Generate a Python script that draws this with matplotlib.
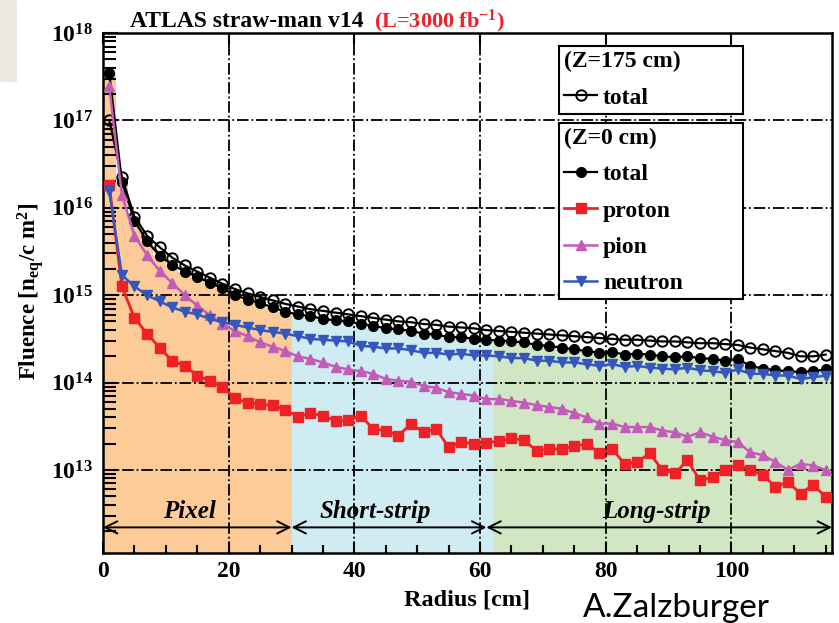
import numpy as np
import matplotlib
matplotlib.use("Agg")
import matplotlib.pyplot as plt
from matplotlib.ticker import MultipleLocator, LogLocator, FuncFormatter, NullFormatter
from matplotlib.patches import Rectangle

plt.rcParams["font.family"] = ["Liberation Serif", "DejaVu Serif"]
plt.rcParams["font.weight"] = "bold"
plt.rcParams["mathtext.fontset"] = "custom"
plt.rcParams["mathtext.rm"] = "Liberation Serif:bold"
plt.rcParams["mathtext.bf"] = "Liberation Serif:bold"
plt.rcParams["mathtext.it"] = "Liberation Serif:bold:italic"

# ---- data: 2 cm radial bins, fluence values given as log10(n_eq/cm^2) ----
bin_edges = np.arange(0, 117, 2)
radius = 0.5 * (bin_edges[:-1] + bin_edges[1:])

log_total_z175 = [
    17.00, 16.35, 15.90, 15.68, 15.55, 15.43, 15.34, 15.27, 15.20, 15.13,
    15.07, 15.02, 14.98, 14.94, 14.90, 14.87, 14.84, 14.82, 14.80, 14.78,
    14.76, 14.74, 14.72, 14.70, 14.69, 14.67, 14.66, 14.64, 14.63, 14.62,
    14.60, 14.59, 14.58, 14.57, 14.56, 14.55, 14.54, 14.53, 14.52, 14.51,
    14.50, 14.49, 14.49, 14.48, 14.47, 14.47, 14.46, 14.45, 14.45, 14.44,
    14.43, 14.40, 14.38, 14.36, 14.34, 14.30, 14.30, 14.32]
log_total_z0 = [
    17.54, 16.30, 15.85, 15.62, 15.45, 15.35, 15.27, 15.21, 15.14, 15.08,
    15.00, 14.95, 14.91, 14.86, 14.81, 14.78, 14.76, 14.73, 14.71, 14.70,
    14.67, 14.65, 14.62, 14.61, 14.59, 14.56, 14.55, 14.52, 14.52, 14.50,
    14.49, 14.48, 14.47, 14.46, 14.43, 14.42, 14.40, 14.38, 14.36, 14.34,
    14.35, 14.32, 14.33, 14.32, 14.30, 14.29, 14.30, 14.28, 14.27, 14.25,
    14.27, 14.19, 14.16, 14.14, 14.13, 14.12, 14.13, 14.15]
log_proton = [
    16.26, 15.10, 14.74, 14.56, 14.40, 14.25, 14.19, 14.08, 14.02, 13.95,
    13.82, 13.77, 13.75, 13.74, 13.69, 13.61, 13.65, 13.62, 13.56, 13.57,
    13.62, 13.47, 13.45, 13.39, 13.53, 13.43, 13.47, 13.26, 13.32, 13.30,
    13.31, 13.33, 13.36, 13.34, 13.22, 13.24, 13.24, 13.27, 13.30, 13.19,
    13.24, 13.07, 13.09, 13.19, 13.00, 12.96, 13.11, 12.88, 12.92, 13.00,
    13.06, 13.00, 12.94, 12.81, 12.86, 12.73, 12.83, 12.69]
log_pion = [
    17.39, 16.15, 15.68, 15.46, 15.28, 15.14, 15.00, 14.88, 14.77, 14.67,
    14.59, 14.53, 14.46, 14.41, 14.36, 14.30, 14.27, 14.23, 14.18, 14.15,
    14.13, 14.10, 14.04, 14.02, 14.01, 13.96, 13.94, 13.89, 13.87, 13.85,
    13.81, 13.81, 13.79, 13.77, 13.74, 13.72, 13.70, 13.65, 13.60, 13.53,
    13.53, 13.49, 13.49, 13.49, 13.45, 13.43, 13.38, 13.43, 13.38, 13.34,
    13.32, 13.20, 13.17, 13.09, 13.00, 13.07, 13.05, 13.00]
log_neutron = [
    16.19, 15.23, 15.10, 15.00, 14.93, 14.86, 14.81, 14.78, 14.73, 14.69,
    14.66, 14.63, 14.60, 14.58, 14.56, 14.53, 14.50, 14.49, 14.48, 14.47,
    14.42, 14.41, 14.39, 14.39, 14.37, 14.34, 14.34, 14.32, 14.33, 14.31,
    14.31, 14.30, 14.28, 14.28, 14.25, 14.25, 14.23, 14.23, 14.21, 14.19,
    14.21, 14.18, 14.19, 14.17, 14.16, 14.15, 14.17, 14.14, 14.13, 14.11,
    14.15, 14.10, 14.10, 14.08, 14.08, 14.04, 14.06, 14.08]

region_edges = [0, 30, 62, 116]
region_names = ["Pixel", "Short-strip", "Long-strip"]
region_colors = ["#FCCB98", "#D0ECF3", "#D1E7C4"]
arrow_edges = [0, 30, 61, 116]
label_centres = [13.8, 43.3, 88.0]

total_z175 = 10.0 ** np.array(log_total_z175)
total_z0 = 10.0 ** np.array(log_total_z0)
proton = 10.0 ** np.array(log_proton)
pion = 10.0 ** np.array(log_pion)
neutron = 10.0 ** np.array(log_neutron)

W, H = 839, 623
fig = plt.figure(figsize=(W / 100, H / 100), dpi=100)
fig.patches.append(Rectangle((0, 1 - 81 / H), 16 / W, 81 / H,
                             transform=fig.transFigure, color="#EDEAE1", zorder=0))
ax = fig.add_axes([103 / W, 1 - 553 / H, (832 - 103) / W, (553 - 33) / H])

# detector regions: the total (Z=0) histogram filled with the region colour
for lo, hi, col in zip(region_edges[:-1], region_edges[1:], region_colors):
    idx = np.where((bin_edges[:-1] >= lo) & (bin_edges[1:] <= hi))[0]
    ax.stairs(total_z0[idx], bin_edges[idx[0]:idx[-1] + 2], baseline=1e10,
              fill=True, color=col, lw=0, zorder=1)

lw = 1.6
h175, = ax.plot(radius, total_z175, "-o", color="black", mfc="none", ms=7.5,
                mew=1.4, lw=lw, zorder=3)
htot, = ax.plot(radius, total_z0, "-o", color="black", ms=7, lw=lw, zorder=4)
hpro, = ax.plot(radius, proton, "-s", color="#EE2126", ms=7.5, lw=2.0, zorder=4)
hpi, = ax.plot(radius, pion, "-^", color="#C35CB8", ms=7.5, lw=1.8, zorder=4)
hneu, = ax.plot(radius, neutron, "-v", color="#3557BD", ms=7.5, lw=1.8, zorder=4)

ax.set_xlim(0, 116)
ax.set_yscale("log")
ax.set_ylim(1.12e12, 1e18)
ax.grid(True, which="major", color="black", linestyle="-.", linewidth=1.3)

ax.xaxis.set_major_locator(MultipleLocator(20))
ax.xaxis.set_minor_locator(MultipleLocator(5))
ax.yaxis.set_major_locator(LogLocator(base=10, numticks=20))
ax.yaxis.set_minor_locator(LogLocator(base=10, subs=np.arange(2, 10), numticks=20))
ax.yaxis.set_minor_formatter(NullFormatter())
ax.yaxis.set_major_formatter(FuncFormatter(lambda v, p: r"$\mathbf{10^{%d}}$" % round(np.log10(v))))
ax.tick_params(which="both", direction="in", width=1.5, labelsize=17)
ax.tick_params(axis="x", which="major", top=True, length=8, pad=6)
ax.tick_params(axis="x", which="minor", top=False, length=6)
ax.tick_params(axis="y", which="major", length=11, pad=7)
ax.tick_params(axis="y", which="minor", length=9)
for s in ax.spines.values():
    s.set_linewidth(1.8)

# region arrows and names
y_arrow = 2.2e12
for lo, hi in zip(arrow_edges[:-1], arrow_edges[1:]):
    ax.annotate("", xy=(hi, y_arrow), xytext=(lo, y_arrow),
                arrowprops=dict(arrowstyle="<->", lw=1.4, color="black",
                                mutation_scale=22, shrinkA=0, shrinkB=0), zorder=5)
for name, xc in zip(region_names, label_centres):
    ax.text(xc, 3.3e12, name, style="italic", weight="bold", fontsize=18,
            ha="center", va="center", zorder=5)

# legends
leg_kw = dict(loc="upper left", mode="expand", fancybox=False, framealpha=1,
              edgecolor="black", fontsize=17, alignment="left", borderaxespad=0,
              handlelength=1.4, handletextpad=0.25, borderpad=0.22, labelspacing=0.62,
              title_fontproperties={"weight": "bold", "size": 17})
leg1 = ax.legend([h175], ["total"], title="(Z=175 cm)",
                 bbox_to_anchor=(0.6255, 0.5, 0.2524, 0.475), **leg_kw)
leg1.get_frame().set_linewidth(1.5)
leg1.set_zorder(6)
ax.add_artist(leg1)
leg2 = ax.legend([htot, hpro, hpi, hneu], ["total", "proton", "pion", "neutron"],
                 title="(Z=0 cm)", bbox_to_anchor=(0.6255, 0.3, 0.2524, 0.527), **leg_kw)
leg2.get_frame().set_linewidth(1.5)
leg2.set_zorder(6)

# titles and labels
t1 = fig.text(130 / W, 1 - 27 / H, "ATLAS straw-man v14", fontsize=17, weight="bold",
              ha="left", va="baseline")
fig.canvas.draw()
x_end = fig.transFigure.inverted().transform(
    t1.get_window_extent(fig.canvas.get_renderer()).get_points())[1, 0]
fig.text(x_end + 10 / W, 1 - 27 / H, r"(L=3000 fb$^{\mathbf{-1}}$)", fontsize=16,
         weight="bold", color="#EE2126", ha="left", va="baseline")
fig.text(31 / W, 1 - 291 / H, r"Fluence [n$_{\mathbf{eq}}$/c m$^{\mathbf{2}}$]",
         fontsize=16.5, weight="bold", rotation=90, ha="center", va="center")
fig.text(467 / W, 1 - 600 / H, "Radius [cm]", fontsize=17.5, weight="bold",
         ha="center", va="center")
fig.text(583 / W, 1 - 617 / H, "A.Zalzburger", family="Lato", weight="normal",
         fontsize=24, ha="left", va="baseline")

fig.savefig("out.png", dpi=100)
